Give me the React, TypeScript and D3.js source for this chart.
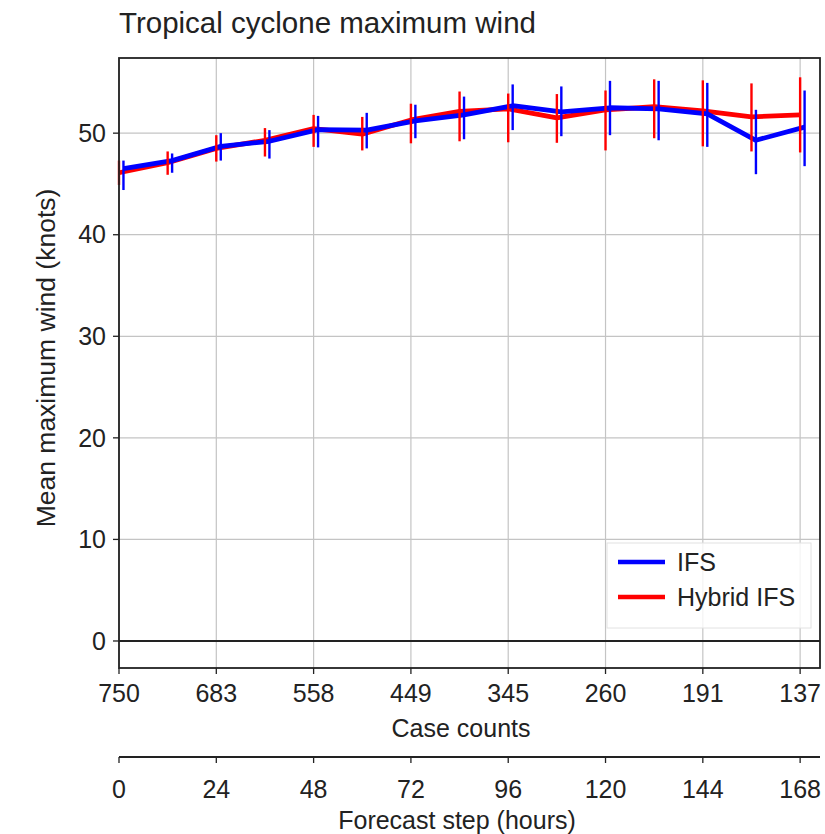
import React from "react";
import * as d3 from "d3";

const hours = [0, 12, 24, 36, 48, 60, 72, 84, 96, 108, 120, 132, 144, 156, 168];
const ifsMean = [46.5, 47.3, 48.7, 49.2, 50.35, 50.3, 51.2, 51.8, 52.7, 52.1, 52.5, 52.4, 51.9, 49.3, 50.6];
const ifsLow = [44.4, 46.1, 47.3, 47.5, 48.6, 48.5, 49.5, 49.4, 50.3, 49.7, 49.8, 49.3, 48.65, 45.96, 46.75];
const ifsHigh = [47.3, 48.0, 50.0, 50.3, 51.7, 52.0, 52.8, 53.6, 54.8, 54.6, 55.15, 55.15, 54.95, 52.3, 54.2];
const hybMean = [46.1, 47.1, 48.5, 49.3, 50.45, 49.9, 51.3, 52.15, 52.4, 51.5, 52.3, 52.6, 52.2, 51.6, 51.8];
const hybLow = [44.9, 45.9, 47.2, 47.7, 48.65, 48.3, 49.0, 49.2, 49.1, 49.05, 48.3, 49.5, 48.7, 48.2, 48.1];
const hybHigh = [47.3, 48.2, 49.8, 50.5, 51.8, 51.6, 52.9, 54.1, 53.9, 53.85, 54.2, 55.3, 55.2, 54.9, 55.5];

const stepTicks = [0, 24, 48, 72, 96, 120, 144, 168];
const caseCounts = ["750", "683", "558", "449", "345", "260", "191", "137"];
const yTicks = [0, 10, 20, 30, 40, 50];

const FONT = "'Liberation Sans', Arial, Helvetica, sans-serif";
const FS = 25;

export default function App() {
  const left = 119, right = 820, top = 58, bottom = 668;
  const x = d3.scaleLinear().domain([0, 172.9]).range([left, right]);
  const y = d3.scaleLinear().domain([-2.66, 57.4]).range([bottom, top]);
  const blueOff = 1.1; // hours offset of IFS series

  const mkPath = (vals: number[], off: number) =>
    d3
      .line<number>()
      .x((_, i) => x(hours[i] + off))
      .y((d) => y(d))(vals) as string;

  const axis2Y = 757;
  const txt = "#222";

  return (
    <svg
      width={825}
      height={834}
      style={{ position: "absolute", left: 0, top: 0, background: "#fff" }}
      fontFamily={FONT}
    >
      <rect x={0} y={0} width={825} height={834} fill="#fff" />
      <text x={119} y={33} fontSize={29.5} fill={txt}>
        Tropical cyclone maximum wind
      </text>

      {/* grid */}
      {stepTicks.map((t) => (
        <line key={"gx" + t} x1={x(t)} x2={x(t)} y1={top} y2={bottom} stroke="#c4c4c4" strokeWidth={1.2} />
      ))}
      {yTicks.filter((t) => t !== 0).map((t) => (
        <line key={"gy" + t} x1={left} x2={right} y1={y(t)} y2={y(t)} stroke="#c4c4c4" strokeWidth={1.2} />
      ))}
      <line x1={left} x2={right} y1={y(0)} y2={y(0)} stroke="#222" strokeWidth={1.8} />

      {/* series lines */}
      <path d={mkPath(hybMean, 0)} fill="none" stroke="#ff0000" strokeWidth={4.8} strokeLinejoin="round" />
      <path d={mkPath(ifsMean, blueOff)} fill="none" stroke="#0000ff" strokeWidth={4.8} strokeLinejoin="round" />

      {/* error bars */}
      {hours.map((h, i) => (
        <line key={"eh" + i} x1={x(h)} x2={x(h)} y1={y(hybLow[i])} y2={y(hybHigh[i])} stroke="#ff0000" strokeWidth={2.4} />
      ))}
      {hours.map((h, i) => (
        <line key={"eb" + i} x1={x(h + blueOff)} x2={x(h + blueOff)} y1={y(ifsLow[i])} y2={y(ifsHigh[i])} stroke="#0000ff" strokeWidth={2.4} />
      ))}

      {/* legend */}
      <rect x={607} y={543} width={204} height={85} fill="#fff" fillOpacity={0.8} stroke="#e2e2e2" strokeWidth={1} />
      <line x1={618} x2={665} y1={562} y2={562} stroke="#0000ff" strokeWidth={4.5} />
      <line x1={618} x2={665} y1={597} y2={597} stroke="#ff0000" strokeWidth={4.5} />
      <text x={677} y={571} fontSize={FS} fill={txt}>IFS</text>
      <text x={677} y={606} fontSize={FS} fill={txt}>Hybrid IFS</text>

      {/* frame */}
      <rect x={left} y={top} width={right - left} height={bottom - top} fill="none" stroke="#222" strokeWidth={1.8} />

      {/* y axis */}
      {yTicks.map((t) => (
        <g key={"yt" + t}>
          <line x1={left - 6} x2={left} y1={y(t)} y2={y(t)} stroke="#222" strokeWidth={1.3} />
          <text x={left - 13} y={y(t)} dy="0.35em" textAnchor="end" fontSize={FS} fill={txt}>
            {t}
          </text>
        </g>
      ))}
      <text
        transform={`translate(55,${358}) rotate(-90)`}
        textAnchor="middle"
        fontSize={26.5}
        fill={txt}
      >
        Mean maximum wind (knots)
      </text>

      {/* case count axis */}
      {stepTicks.map((t, i) => (
        <g key={"ct" + t}>
          <line x1={x(t)} x2={x(t)} y1={bottom} y2={bottom + 6} stroke="#222" strokeWidth={1.3} />
          <text x={x(t)} y={702} textAnchor="middle" fontSize={FS} fill={txt}>
            {caseCounts[i]}
          </text>
        </g>
      ))}
      <text x={461} y={737} textAnchor="middle" fontSize={FS} fill={txt}>
        Case counts
      </text>

      {/* forecast step axis */}
      <line x1={left} x2={right} y1={axis2Y} y2={axis2Y} stroke="#222" strokeWidth={1.8} />
      {stepTicks.map((t) => (
        <g key={"st" + t}>
          <line x1={x(t)} x2={x(t)} y1={axis2Y} y2={axis2Y + 6} stroke="#222" strokeWidth={1.3} />
          <text x={x(t)} y={798} textAnchor="middle" fontSize={FS} fill={txt}>
            {t}
          </text>
        </g>
      ))}
      <text x={457} y={829} textAnchor="middle" fontSize={FS} fill={txt}>
        Forecast step (hours)
      </text>
    </svg>
  );
}
